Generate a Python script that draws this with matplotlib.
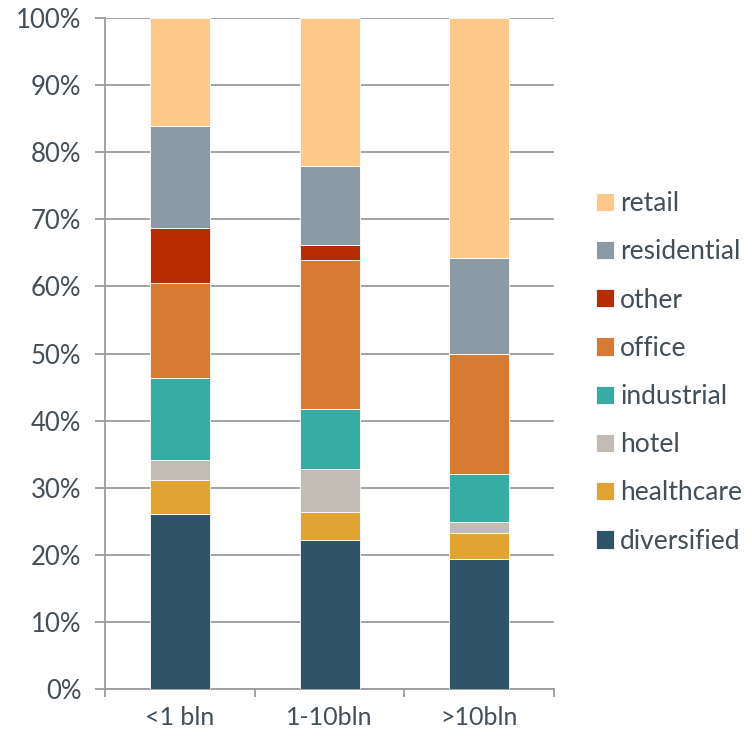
import numpy as np
import matplotlib
matplotlib.use("Agg")
import matplotlib.pyplot as plt

# fund size buckets and sector shares (% of total)
groups = ["<1 bln", "1-10bln", ">10bln"]
sectors = ["diversified", "healthcare", "hotel", "industrial",
           "office", "other", "residential", "retail"]
diversified = [26.1, 22.3, 19.4]
healthcare = [5.1, 4.1, 3.9]
hotel = [2.9, 6.4, 1.6]
industrial = [12.3, 8.9, 7.2]
office = [14.1, 22.2, 17.8]
other = [8.2, 2.2, 0.0]
residential = [15.2, 11.8, 14.3]
retail = [16.1, 22.1, 35.8]

colors = ["#2f5468", "#e1a433", "#c3bcb5", "#38aba3",
          "#d67a34", "#b72c00", "#8c9aa6", "#ffc98b"]
text_col = "#434e57"
grid_col = "#9a9c9e"

plt.rcParams["font.family"] = ["Lato", "DejaVu Sans"]

fig = plt.figure(figsize=(7.52, 7.36), dpi=100)
ax = fig.add_axes([0.1396, 0.0634, 0.737 - 0.1396, 0.976 - 0.0634])

series = [diversified, healthcare, hotel, industrial, office, other, residential, retail]
x = np.arange(len(groups))
bottom = np.zeros(len(groups))
handles = []
for name, vals, col in zip(sectors, series, colors):
    vals = np.array(vals)
    h = ax.bar(x, vals, 0.4, bottom=bottom, color=col, edgecolor="white",
               linewidth=0.6, label=name, zorder=3)
    handles.append(h)
    bottom += vals

ax.set_xlim(-0.5, 2.5)
ax.set_ylim(0, 100)
ax.set_yticks(np.arange(0, 101, 10))
ax.set_yticklabels([f"{v}%" for v in range(0, 101, 10)])
ax.yaxis.grid(True, color=grid_col, linewidth=1.3, zorder=0)
ax.set_axisbelow(True)

ax.set_xticks(x)
ax.set_xticklabels(groups)
ax.set_xticks([-0.5, 0.5, 1.5, 2.5], minor=True)
ax.tick_params(axis="x", which="major", length=0, pad=12, labelsize=18, labelcolor=text_col)
ax.tick_params(axis="x", which="minor", length=6, width=1.3, color=grid_col)
ax.tick_params(axis="y", length=7, width=1.3, color=grid_col, pad=10,
               labelsize=18.5, labelcolor=text_col)

for s in ["top", "right"]:
    ax.spines[s].set_visible(False)
for s in ["left", "bottom"]:
    ax.spines[s].set_color(grid_col)
    ax.spines[s].set_linewidth(1.3)

leg = fig.legend(handles[::-1], sectors[::-1], loc="center left",
                 bbox_to_anchor=(0.792, 0.494), frameon=False, fontsize=19,
                 handlelength=0.68, handleheight=0.68, handletextpad=0.25,
                 labelspacing=0.88, borderpad=0, borderaxespad=0)
for t in leg.get_texts():
    t.set_color(text_col)

fig.savefig("out.png", dpi=100)
